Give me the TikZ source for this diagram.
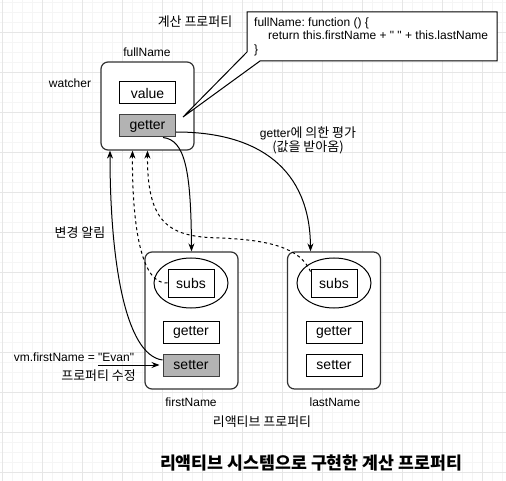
\documentclass[tikz,border=0pt]{standalone}
\usepackage{fontspec}
\setmainfont{Liberation Sans}
\newfontfamily\kr[Scale=1.08]{Noto Sans CJK KR}
\usepackage{tikz}
\usetikzlibrary{positioning,arrows.meta,calc,shapes.geometric,backgrounds}
\definecolor{gridmajor}{HTML}{E6E6E6}
\definecolor{gridminor}{HTML}{F5F5F5}
\definecolor{boxline}{HTML}{333333}
\definecolor{fieldgray}{HTML}{B3B3B3}
\frenchspacing

\begin{document}
\begin{tikzpicture}[
  x=1pt,y=1pt,
  >={Stealth[length=8pt,width=6pt]},
  lbl/.style={font=\fontsize{12pt}{14pt}\selectfont,inner sep=0pt},
  obj/.style={draw=boxline,line width=1.2pt,fill=white,rounded corners=7pt,minimum width=93pt,inner sep=0pt},
  field/.style={draw=black,line width=1pt,fill=white,minimum width=56pt,minimum height=22pt,inner sep=0pt,font=\fontsize{14pt}{16pt}\selectfont},
  hot/.style={field,fill=fieldgray,draw=black!75},
  dep/.style={ellipse,draw,line width=1pt,fill=white,minimum width=74pt,minimum height=50pt},
  link/.style={->,line width=1pt},
  track/.style={link,dash pattern=on 3pt off 3pt}
]
\useasboundingbox (0,0) rectangle (506,-481);
% background grid
\begin{scope}[on background layer]
\fill[white] (0,0) rectangle (506,-481);
\foreach \g in {2,12,...,502} \draw[gridminor,line width=0.8pt] (\g,0) -- (\g,-481);
\foreach \g in {2,12,...,472} \draw[gridminor,line width=0.8pt] (0,-\g) -- (506,-\g);
\foreach \g in {2,42,...,482} \draw[gridmajor,line width=0.8pt] (\g,0) -- (\g,-481);
\foreach \g in {32,72,...,472} \draw[gridmajor,line width=0.8pt] (0,-\g) -- (506,-\g);
\end{scope}

% computed property (watcher)
\node[obj,minimum height=88pt] (watcher) at (147.5,-106) {};
\node[field] (value) at (147.5,-93) {value};
\node[hot] (getter0) at (147.5,-126) {getter};
\node[lbl] (fullName) at (147,-52) {fullName};
\node[lbl] (watcherlbl) at (70,-83) {watcher};
\node[lbl] (computed) at (195,-22) {\kr 계산 프로퍼티};

% callout with the getter code
\coordinate (tip) at (183,-117);
\coordinate (co nw) at (247,-12);
\coordinate (co se) at (497,-61);
\filldraw[fill=white,line width=1pt] (co nw) -- (co nw -| co se) -- (co se)
  -- ($(co nw |- co se)+(13,0)$) -- (tip) -- ($(co nw |- co se)+(0,9)$) -- cycle;
\node[lbl,anchor=west,align=left,font=\fontsize{12pt}{13.5pt}\selectfont] (code) at (254,-36.5)
  {fullName: function () \{\\
   \hspace*{14pt}return this.firstName + \textquotedbl{} \textquotedbl{} + this.lastName\\
   \}};

% reactive property: firstName
\node[obj,minimum height=137pt] (first) at (191.5,-320.5) {};
\node[dep] (dep1) at (191,-283) {};
\node[field,minimum width=46pt,minimum height=28pt] (subs1) at (191,-283) {subs};
\node[field] (getter1) at (191,-332.5) {getter};
\node[hot] (setter1) at (191,-365) {setter};
\node[lbl] (firstlbl) at (191,-402) {firstName};

% reactive property: lastName
\node[obj,minimum height=137pt] (last) at (334,-320.5) {};
\node[dep] (dep2) at (334,-283) {};
\node[field,minimum width=46pt,minimum height=28pt] (subs2) at (334,-283) {subs};
\node[field] (getter2) at (334,-332.5) {getter};
\node[field] (setter2) at (334,-365) {setter};
\node[lbl] (lastlbl) at (335,-402) {lastName};

% labels
\node[lbl,align=center,font=\fontsize{12pt}{14pt}\selectfont] (evallbl) at (308,-140)
  {getter{\kr 에 의한 평가}\\{\kr (값을 받아옴)}};
\node[lbl] (notify) at (80,-233) {\kr 변경 알림};
\node[lbl] (assign) at (74,-357) {vm.firstName = \textquotedbl Evan\textquotedbl};
\node[lbl,anchor=east] (modify) at (136,-376) {\kr 프로퍼티 수정};
\node[lbl] (reactive) at (262,-422) {\kr 리액티브 프로퍼티};
\node[font=\fontsize{16pt}{19pt}\selectfont\kr\bfseries,inner sep=0pt] (title) at (311,-463)
  {리액티브 시스템으로 구현한 계산 프로퍼티};

% evaluation by getter
\draw[link] ($(getter0.east)+(0,-6)$) .. controls +(84,0) and (310,-170) .. (subs2.west |- last.north);
\draw[link] ($(getter0.south)+(15.5,0)$) .. controls (185,-140) and (191,-170) .. (first.north);
% dependency tracking
\draw[track] (subs1.west) .. controls (140,-285) and (132,-220) .. ($(watcher.south)+(-15,0)$);
\draw[track] ($(subs2.north west)+(0,-3)$) .. controls (300,-248) and (270,-240) .. (220,-238)
  .. controls (170,-237) and (147,-225) .. (watcher.south);
% change notification
\draw[link] ($(setter1.west)+(0,5)$) .. controls (125,-355) and (110,-260) .. ($(watcher.south)+(-37.5,0)$);
\coordinate (edit) at (98,-365);
\draw[link,shorten >=3pt] (edit) -- (setter1.west);
\end{tikzpicture}
\end{document}
